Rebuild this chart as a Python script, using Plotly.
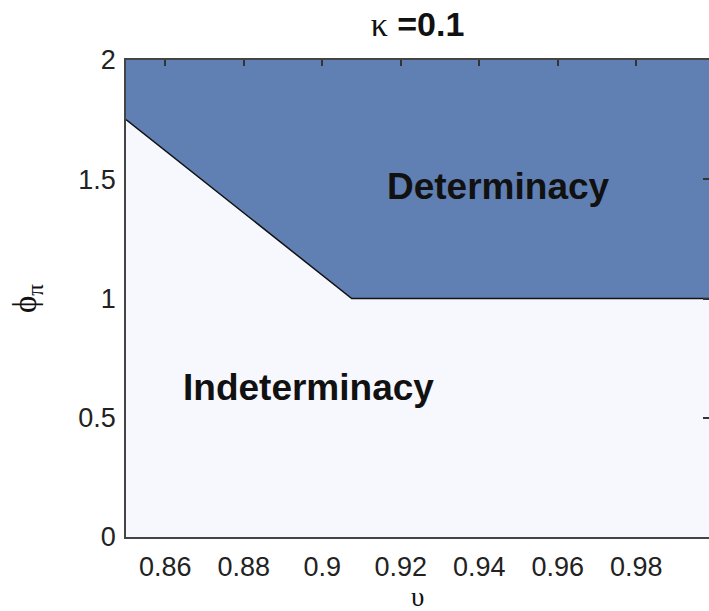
import plotly.graph_objects as go

# Data
v_min, v_max = 0.85, 1.0
phi_min, phi_max = 0.0, 2.0
boundary_v = [0.85, 0.9075, 1.0]
boundary_phi = [1.75, 1.0, 1.0]
x_ticks = [0.86, 0.88, 0.90, 0.92, 0.94, 0.96, 0.98]
x_tick_labels = ["0.86", "0.88", "0.9", "0.92", "0.94", "0.96", "0.98"]
y_ticks = [0, 0.5, 1, 1.5, 2]
y_tick_labels = ["0", "0.5", "1", "1.5", "2"]
region_labels = ["Determinacy", "Indeterminacy"]
region_label_v = [0.945, 0.8965]
region_label_phi = [1.47, 0.625]

BLUE = "#6080b4"
LIGHT = "#f7f8fd"

fig = go.Figure()

# Indeterminacy region (below boundary)
ind_x = [v_min, v_max] + boundary_v[::-1]
ind_y = [phi_min, phi_min] + boundary_phi[::-1]
fig.add_trace(go.Scatter(x=ind_x + [ind_x[0]], y=ind_y + [ind_y[0]], fill="toself",
                         fillcolor=LIGHT, line=dict(width=0), mode="lines",
                         hoverinfo="skip", showlegend=False))
# Determinacy region (above boundary)
det_x = boundary_v + [v_max, v_min]
det_y = boundary_phi + [phi_max, phi_max]
fig.add_trace(go.Scatter(x=det_x + [det_x[0]], y=det_y + [det_y[0]], fill="toself",
                         fillcolor=BLUE, line=dict(width=0), mode="lines",
                         hoverinfo="skip", showlegend=False))
# Boundary line
fig.add_trace(go.Scatter(x=boundary_v, y=boundary_phi, mode="lines",
                         line=dict(color="#111111", width=1.5),
                         hoverinfo="skip", showlegend=False))

for txt, vx, py in zip(region_labels, region_label_v, region_label_phi):
    fig.add_annotation(x=vx, y=py, text="<b>" + txt + "</b>", showarrow=False,
                       font=dict(family="Liberation Sans, Arial", size=37, color="#111111"),
                       xanchor="center", yanchor="middle")

# x-axis title as an annotation for precise placement
fig.add_annotation(x=0.5, xref="paper", y=-0.125, yref="paper", text="υ", showarrow=False,
                   font=dict(family="Liberation Serif", size=27, color="#111111"),
                   xanchor="center", yanchor="middle")

xr = [0.85, 0.9985]
yr = [0, 2]
axis_font = dict(family="Liberation Sans, Arial", size=27, color="#222222")

fig.update_layout(
    width=709, height=611,
    margin=dict(l=126, r=0, t=60, b=74),
    paper_bgcolor="white", plot_bgcolor="white",
    title=dict(text="<span style='font-family:Liberation Serif;font-weight:normal'>κ</span><b> =0.1</b>",
               x=0.5, xref="paper", xanchor="center",
               y=1 - 24 / 611, yref="container", yanchor="middle",
               font=dict(family="Liberation Sans, Arial", size=34, color="#111111")),
    xaxis=dict(range=xr, tickvals=x_ticks, ticktext=x_tick_labels, ticks="",
               showgrid=False, zeroline=False, showline=True, linecolor="#444444",
               linewidth=1.5, tickfont=axis_font, ticklabelstandoff=5),
    yaxis=dict(range=yr, tickvals=y_ticks, ticktext=y_tick_labels, ticks="",
               showgrid=False, zeroline=False, showline=True, linecolor="#444444",
               linewidth=1.5, tickfont=axis_font, ticklabelstandoff=3,
               title=dict(text="ϕ<sub>π</sub>", font=dict(family="Liberation Serif", size=33, color="#111111"),
                          standoff=32)),
    xaxis2=dict(range=xr, overlaying="x", side="top", tickvals=x_ticks, ticks="inside",
                ticklen=6, tickcolor="#333333", tickwidth=1.5, showticklabels=False,
                showgrid=False, zeroline=False, showline=True, linecolor="#444444", linewidth=1.5),
    yaxis2=dict(range=yr, overlaying="y", side="right", tickvals=y_ticks, ticks="inside",
                ticklen=6, tickcolor="#333333", tickwidth=1.5, showticklabels=False,
                showgrid=False, zeroline=False, showline=True, linecolor="#444444", linewidth=1.5),
)
# dummy trace to activate secondary axes
fig.add_trace(go.Scatter(x=[xr[0]], y=[yr[0]], xaxis="x2", yaxis="y2", mode="markers",
                         marker=dict(opacity=0), hoverinfo="skip", showlegend=False))

fig.write_html("out.html")
